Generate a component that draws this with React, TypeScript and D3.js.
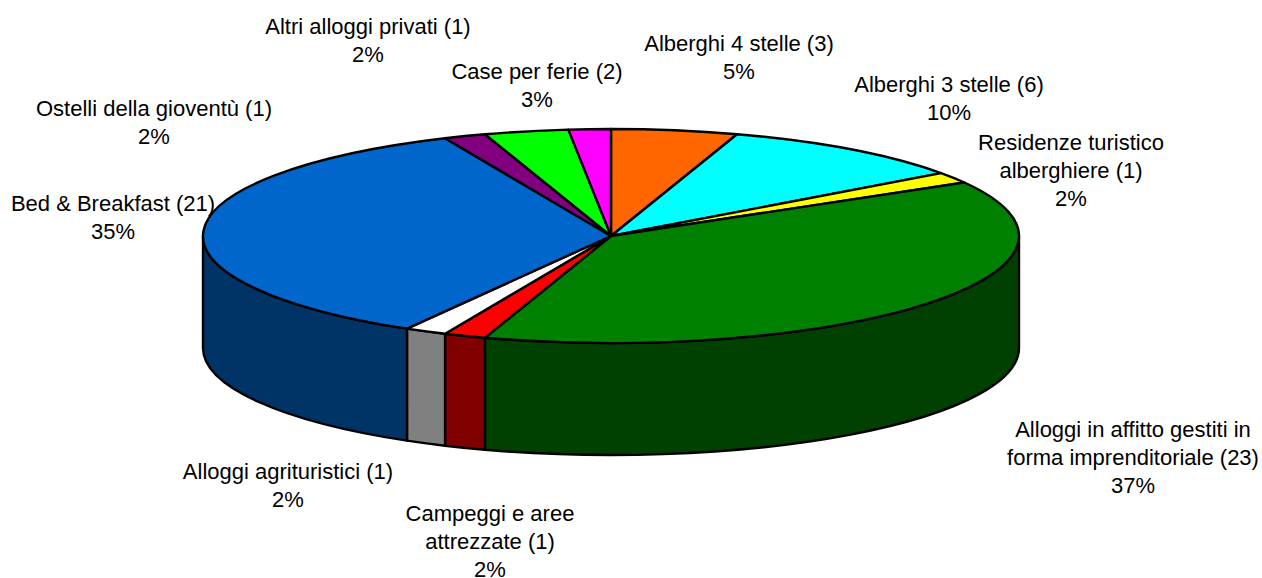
import React from "react";
import * as d3 from "d3";

const categories = [
  "Alberghi 4 stelle (3)",
  "Alberghi 3 stelle (6)",
  "Residenze turistico alberghiere (1)",
  "Alloggi in affitto gestiti in forma imprenditoriale (23)",
  "Campeggi e aree attrezzate (1)",
  "Alloggi agrituristici (1)",
  "Bed & Breakfast (21)",
  "Ostelli della gioventù (1)",
  "Case per ferie (2)",
  "Altri alloggi privati (1)",
];
const values = [3, 6, 1, 23, 1, 1, 21, 1, 2, 1];
const topColors = ["#FF6600", "#00FFFF", "#FFFF00", "#008000", "#FF0000", "#FFFFFF", "#0066CC", "#800080", "#00FF00", "#FF00FF"];
const sideColors = ["#803300", "#008080", "#808000", "#004000", "#800000", "#808080", "#003366", "#400040", "#008000", "#800080"];
const labelLines = [
  ["Alberghi 4 stelle (3)", "5%"],
  ["Alberghi 3 stelle (6)", "10%"],
  ["Residenze turistico", "alberghiere (1)", "2%"],
  ["Alloggi in affitto gestiti in", "forma imprenditoriale (23)", "37%"],
  ["Campeggi e aree", "attrezzate (1)", "2%"],
  ["Alloggi agrituristici (1)", "2%"],
  ["Bed & Breakfast (21)", "35%"],
  ["Ostelli della gioventù (1)", "2%"],
  ["Case per ferie (2)", "3%"],
  ["Altri alloggi privati (1)", "2%"],
];
const labelCenters = [739, 949, 1071, 1133, 490, 288, 113, 154, 537, 368];
const labelTops = [51, 92, 150, 437, 521, 479, 211, 116, 79, 34];

const W = 1262, H = 578;
const cx = 611, cy = 236, rx = 408, ry = 107, depth = 112;

const xs = d3.scaleLinear().domain([-1, 1]).range([cx - rx, cx + rx]);
const ys = d3.scaleLinear().domain([-1, 1]).range([cy - ry, cy + ry]);

const pieGen = d3.pie<number>().sort(null).startAngle(0).endAngle(2 * Math.PI);
const arcs = pieGen(values);

const pt = (a: number) => [xs(Math.sin(a)), ys(-Math.cos(a))];

function topPath(a0: number, a1: number) {
  const p = d3.path();
  p.moveTo(cx, cy);
  const [x0, y0] = pt(a0);
  p.lineTo(x0, y0);
  const [x1, y1] = pt(a1);
  const large = a1 - a0 > Math.PI ? 1 : 0;
  return `${p.toString()}A${rx},${ry} 0 ${large} 1 ${x1},${y1}Z`;
}

function sidePath(a0: number, a1: number) {
  const s = Math.max(a0, Math.PI / 2);
  const e = Math.min(a1, (3 * Math.PI) / 2);
  if (e <= s) return null;
  const [x0, y0] = pt(s);
  const [x1, y1] = pt(e);
  return `M${x0},${y0}A${rx},${ry} 0 0 1 ${x1},${y1}L${x1},${y1 + depth}A${rx},${ry} 0 0 0 ${x0},${y0 + depth}Z`;
}

export default function App() {
  return (
    <svg width={W} height={H} viewBox={`0 0 ${W} ${H}`} style={{ position: "absolute", left: 0, top: 0, background: "#fff" }}>
      <g stroke="#000" strokeWidth={2.4} strokeLinejoin="round">
        {arcs.map((d, i) => {
          const sp = sidePath(d.startAngle, d.endAngle);
          return sp ? <path key={i} d={sp} fill={sideColors[i]} /> : null;
        })}
        {arcs.map((d, i) => (
          <path key={i} d={topPath(d.startAngle, d.endAngle)} fill={topColors[i]} />
        ))}
      </g>
      <g fontFamily="'Liberation Sans', Arial, sans-serif" fontSize={22} fill="#000" textAnchor="middle">
        {categories.map((c, i) => (
          <text key={c} x={labelCenters[i]}>
            {labelLines[i].map((l, j) => (
              <tspan key={j} x={labelCenters[i]} y={labelTops[i] + j * 28}>{l}</tspan>
            ))}
          </text>
        ))}
      </g>
    </svg>
  );
}
